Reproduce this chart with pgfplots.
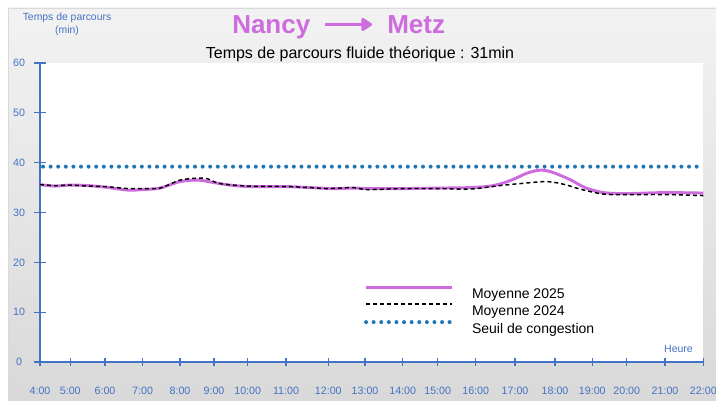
\documentclass[border=0pt]{standalone}
\usepackage{fontspec}
\setmainfont{Liberation Sans}
\usepackage{pgfplots}
\pgfplotsset{compat=1.18}
\usetikzlibrary{arrows.meta}
\definecolor{axblue}{RGB}{68,114,196}
\definecolor{purp}{RGB}{204,108,221}
\definecolor{dotblue}{RGB}{31,119,180}
\begin{document}
\begin{tikzpicture}
\useasboundingbox (0,0) rectangle (537pt,300pt);
\fill[white] (0,0) rectangle (537pt,300pt);
\shade[top color=black!5, bottom color=black!15] (6pt,0) rectangle (537pt,294pt);
\draw[black!15] (6pt,0) -- (6pt,294pt) -- (537pt,294pt);
\begin{axis}[
  at={(30pt,28.5pt)}, anchor=south west,
  scale only axis, width=497.5pt, height=224.25pt,
  xmin=40, xmax=703.3, ymin=0, ymax=60,
  axis lines=left,
  axis line style={axblue, line width=1.1pt, -},
  axis background/.style={fill=white},
  tick align=center,
  xtick style={axblue, line width=0.9pt, /pgfplots/major tick length=6pt},
  ytick style={axblue, line width=0.9pt, /pgfplots/major tick length=9pt},
  xtick={40,70.3,105,142.7,180,214,247.7,286,328.3,365,402.7,437.7,475.7,515,555,592.3,626.7,665,703.3},
  xticklabels={4:00,5:00,6:00,7:00,8:00,9:00,10:00,11:00,12:00,13:00,14:00,15:00,16:00,17:00,18:00,19:00,20:00,21:00,22:00},
  ytick={0,10,20,30,40,50,60},
  /pgf/number format/assume math mode=true,
  ticklabel style={font=\fontsize{8}{9.6}\selectfont, text=axblue},
  xticklabel style={anchor=center, yshift=-19.5pt},
  yticklabel style={anchor=center, xshift=-13.5pt},
  legend style={at={(0.4885,0.255)}, anchor=north west, draw=none, fill=none,
    inner sep=0pt, outer sep=0pt, row sep=1.3pt, column sep=13.5pt,
    font=\fontsize{10.5}{12}\selectfont,
    nodes={inner sep=0pt, text height=8pt, text depth=2.5pt}},
  legend cell align=left,
  legend image code/.code={\draw[#1] (0pt,5.5pt) -- (64.5pt,5.5pt);},
]
\addplot[purp, line width=2.2pt, smooth, tension=0.5] coordinates {
(40,35.6) (55,35.3) (70,35.5) (88,35.4) (105,35.1) (128,34.5) (142.7,34.6) (160,34.9)
(180,36.2) (198,36.5) (214,36.0) (230,35.5) (250,35.2) (286,35.2) (310,35.0) (333,34.8)
(353,34.9) (370,34.8) (402.7,34.8) (437.7,34.9) (470,35.0) (490,35.3) (503,35.9) (515,36.8)
(527,37.9) (540,38.5) (552,38.1) (570,36.6) (585,35.0) (603,34.0) (626.7,33.8) (665,34.0) (703.3,33.9)};
\addlegendentry{Moyenne 2025}
\addplot[black, line width=1.1pt, dash pattern=on 3pt off 2.25pt, smooth, tension=0.5] coordinates {
(40,35.6) (55,35.4) (70,35.5) (88,35.3) (105,35.2) (128,34.8) (142.7,34.8) (160,34.9)
(180,36.5) (198,36.9) (207,36.8) (220,35.8) (247.7,35.3) (286,35.2) (310,35.0) (328.3,34.8)
(353,35.0) (367,34.6) (402.7,34.8) (437.7,34.8) (470,34.7) (500,35.4) (520,35.8) (547,36.2)
(565,35.6) (580,34.7) (603,33.7) (626.7,33.6) (665,33.6) (703.3,33.4)};
\addlegendentry{Moyenne 2024}
\addplot[dotblue, line width=3pt, line cap=round, dash pattern=on 0pt off 5.7pt] coordinates {
(43,39.2) (703.3,39.2)};
\addlegendentry{Seuil de congestion}
\end{axis}
\begin{scope}[x=0.75pt,y=-0.75pt,yshift=300pt]
\node[font=\fontsize{19.5}{22}\selectfont\bfseries, text=purp, anchor=base west, inner sep=0pt] at (232,34) {Nancy};
\node[font=\fontsize{19.5}{22}\selectfont\bfseries, text=purp, anchor=base west, inner sep=0pt] at (387,34) {Metz};
\draw[purp, line width=2.8pt, -{Triangle[round,length=9pt,width=11pt]}] (325,24.5) -- (372,24.5);
\node[font=\fontsize{12}{14}\selectfont, anchor=base, inner sep=0pt] at (360,58.3) {Temps de parcours fluide théorique : 31min};
\node[font=\fontsize{7.8}{9.75}\selectfont, text=axblue, align=center, inner sep=0pt] at (67,24.5) {Temps de parcours\\(min)};
\node[font=\fontsize{7.9}{9}\selectfont, text=axblue, inner sep=0pt] at (678.5,349) {Heure};
\end{scope}
\end{tikzpicture}
\end{document}
